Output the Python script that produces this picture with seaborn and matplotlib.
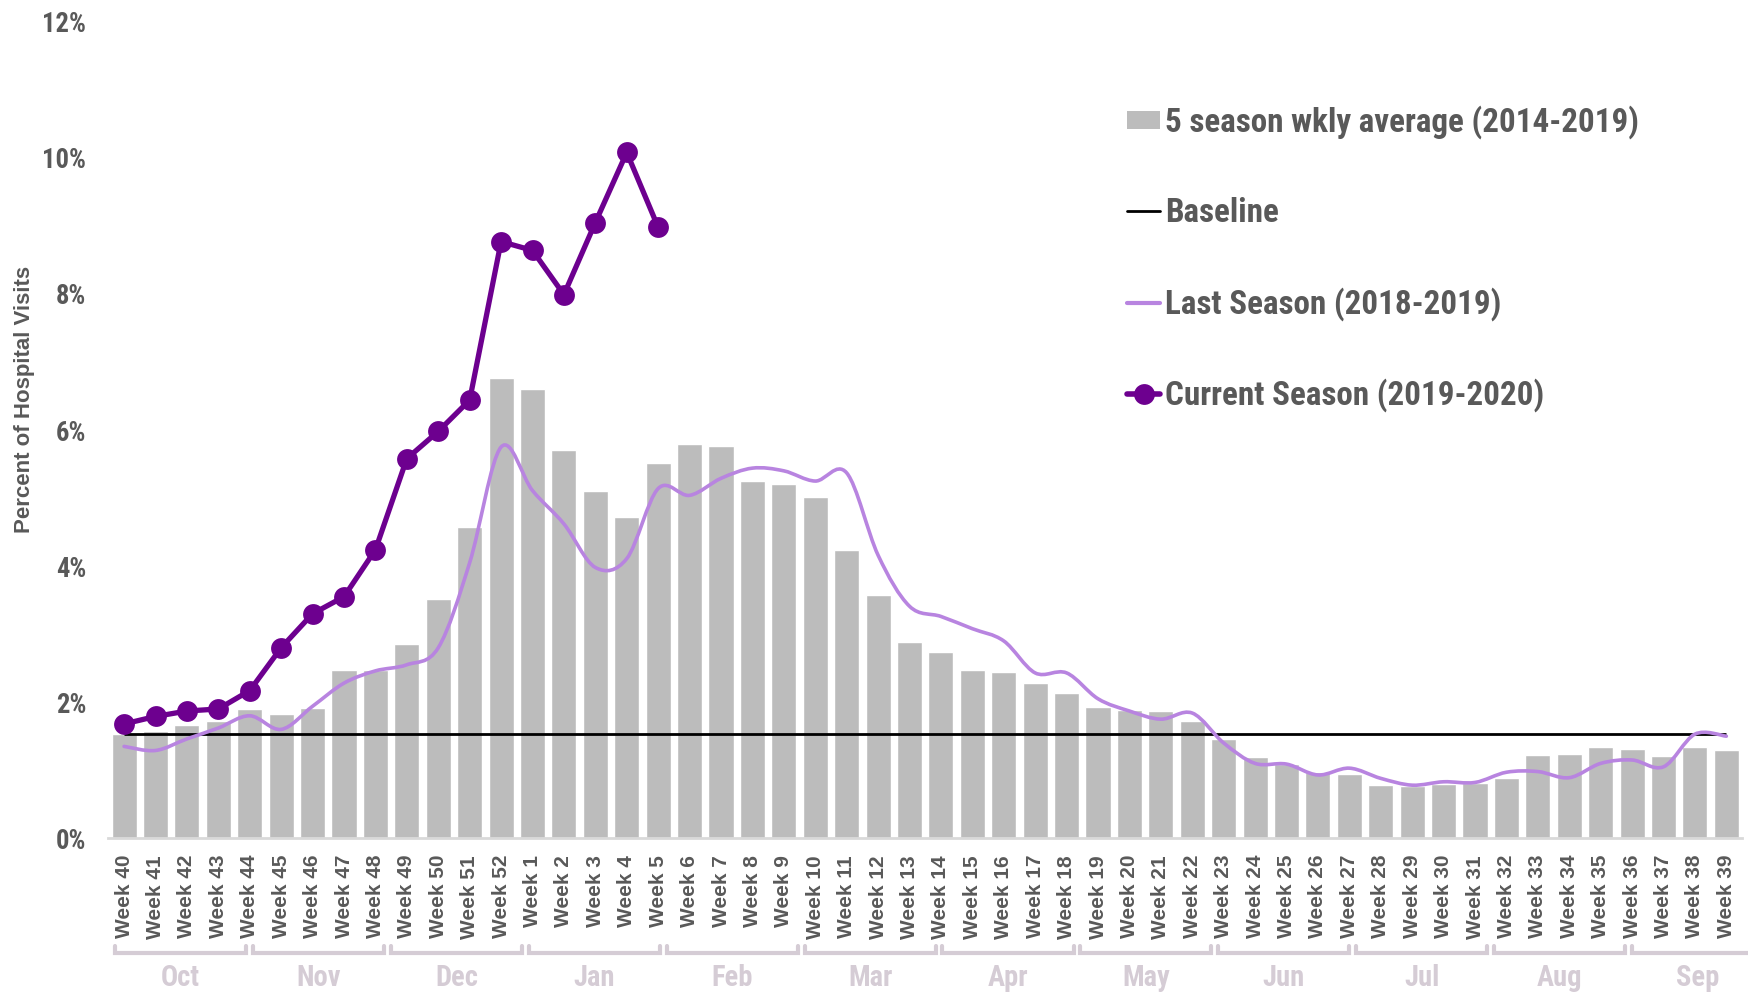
import numpy as np
import pandas as pd
import matplotlib
matplotlib.use("Agg")
import matplotlib.pyplot as plt
import seaborn as sns
from matplotlib.path import Path
from matplotlib.patches import PathPatch, Patch
from matplotlib.lines import Line2D
import matplotlib.transforms as mtransforms
from matplotlib import font_manager

# ---------------- data ----------------
weeks = [f"Week {w}" for w in list(range(40, 53)) + list(range(1, 40))]
five_season_avg = [1.53, 1.57, 1.66, 1.72, 1.90, 1.83, 1.91, 2.47, 2.47, 2.86, 3.51, 4.58, 6.77,
                   6.61, 5.70, 5.11, 4.72, 5.51, 5.79, 5.77, 5.25, 5.21, 5.02,
                   4.23, 3.57, 2.89, 2.74, 2.48, 2.44, 2.28, 2.13, 1.93, 1.89,
                   1.87, 1.73, 1.46, 1.20, 1.09, 0.98, 0.95, 0.78, 0.77, 0.80,
                   0.81, 0.89, 1.22, 1.24, 1.34, 1.31, 1.21, 1.34, 1.30]
last_season = [1.35, 1.29, 1.46, 1.62, 1.80, 1.60, 1.94, 2.28, 2.46, 2.55, 2.80, 4.05, 5.75,
               5.11, 4.62, 3.98, 4.11, 5.14, 5.04, 5.29, 5.44, 5.40, 5.25,
               5.37, 4.16, 3.41, 3.26, 3.08, 2.90, 2.43, 2.43, 2.05, 1.87,
               1.75, 1.84, 1.40, 1.10, 1.09, 0.93, 1.03, 0.88, 0.78, 0.83,
               0.82, 0.97, 0.98, 0.89, 1.10, 1.15, 1.05, 1.53, 1.50]
current_season = [1.68, 1.79, 1.87, 1.90, 2.17, 2.80, 3.30, 3.55, 4.24, 5.58, 5.98, 6.44,
                  8.77, 8.64, 7.99, 9.05, 10.08, 8.98]
baseline = 1.53
months = ["Oct", "Nov", "Dec", "Jan", "Feb", "Mar", "Apr", "May", "Jun", "Jul", "Aug", "Sep"]
y_ticks = [0, 2, 4, 6, 8, 10, 12]
legend_labels = ["5 season wkly average (2014-2019)", "Baseline",
                 "Last Season (2018-2019)", "Current Season (2019-2020)"]

# ---------------- fonts ----------------
sns.set_theme(style="white")
all_fonts = font_manager.fontManager.ttflist
names = {f.name for f in all_fonts}
narrow_name, narrow_stretch = None, "normal"
for pref in ["Liberation Sans Narrow", "Roboto Condensed", "Open Sans Condensed",
             "Noto Sans Condensed", "DejaVu Sans Condensed", "Arial Narrow"]:
    if pref in names:
        narrow_name = pref
        break
if narrow_name is None:
    for f in all_fonts:
        if "Narrow" in f.name or "Condensed" in f.name:
            narrow_name = f.name
            break
if narrow_name is None:
    for f in all_fonts:
        st = str(f.stretch)
        if st in ("condensed", "semi-condensed", "extra-condensed") or (st.isdigit() and int(st) < 500):
            narrow_name, narrow_stretch = f.name, "condensed"
            break
NARROW = ([narrow_name] if narrow_name else []) + ["Liberation Sans", "DejaVu Sans"]
WIDE = ["Liberation Sans", "DejaVu Sans"]
plt.rcParams["font.family"] = NARROW

TEXT = "#595959"
BAR = "#bcbcbc"
LAST = "#b884e0"
CUR = "#6d008f"
MONTH = "#d5ccd5"

fig = plt.figure(figsize=(17.48, 9.92), dpi=100)
renderer = fig.canvas.get_renderer()


def fit_size(text, target_px, base=20.0):
    t = fig.text(0, 0, text, fontsize=base, fontweight="bold", family=NARROW,
                 fontstretch=narrow_stretch)
    w = t.get_window_extent(renderer).width
    t.remove()
    return base * target_px / w


tick_fs = fit_size("12%", 44)
month_fs = fit_size("Oct", 39)
leg_fs = fit_size(legend_labels[0], 475)

ax = fig.add_axes([0.062, 0.155, 0.9346, 0.823])

df = pd.DataFrame({"week": weeks, "avg": five_season_avg})
sns.barplot(data=df, x="week", y="avg", color=BAR, saturation=1, width=0.8, ax=ax, zorder=1)

# baseline
ax.hlines(baseline, 0, len(weeks) - 1, color="black", lw=2, zorder=3)

# last season: smoothed (Excel-like bezier) through the data points
xs = np.arange(len(last_season), dtype=float)
pts = np.column_stack([xs, np.array(last_season)])
verts = [pts[0]]
codes = [Path.MOVETO]
n = len(pts)
for i in range(n - 1):
    p_prev = pts[i - 1] if i > 0 else pts[i]
    p_next2 = pts[i + 2] if i + 2 < n else pts[i + 1]
    c1 = pts[i] + (pts[i + 1] - p_prev) / 6.0
    c2 = pts[i + 1] - (p_next2 - pts[i]) / 6.0
    verts += [c1, c2, pts[i + 1]]
    codes += [Path.CURVE4] * 3
ax.add_patch(PathPatch(Path(verts, codes), facecolor="none", edgecolor=LAST, lw=2.6,
                       zorder=4, capstyle="round"))

# current season
cur_df = pd.DataFrame({"x": np.arange(len(current_season)), "y": current_season})
sns.lineplot(data=cur_df, x="x", y="y", color=CUR, lw=3.8, marker="o", markersize=15,
             markeredgewidth=0, ax=ax, zorder=5)

# axes styling
ax.set_xlim(-0.5, len(weeks) - 0.5)
ax.set_ylim(0, 12)
ax.set_yticks(y_ticks)
ax.set_yticklabels([f"{t}%" for t in y_ticks], fontsize=tick_fs, fontweight="bold", color=TEXT,
                   fontstretch=narrow_stretch)
ax.tick_params(axis="y", length=0, pad=16)
ax.tick_params(axis="x", length=0, pad=12)
ax.set_xticks(range(len(weeks)))
ax.set_xticklabels(weeks, rotation=90, fontsize=15, fontweight="bold", color=TEXT,
                   family=WIDE, va="top", ha="center")
for s in ["top", "right", "left"]:
    ax.spines[s].set_visible(False)
ax.spines["bottom"].set_color("#d9d9d9")
ax.spines["bottom"].set_linewidth(2)
ax.set_xlabel("")
ax.set_ylabel("")
fig.text(25 / 1748, 1 - 399 / 992, "Percent of Hospital Visits", rotation=90, ha="center",
         va="center", fontsize=16, fontweight="bold", color=TEXT, family=WIDE)

# month brackets (12 equal groups under the week axis)
trans = mtransforms.blended_transform_factory(ax.transData, ax.transAxes)
ax_h = 0.823 * 992
start, seg, gap = -0.29, 4.39, 0.22
yb = -(953 - 838) / ax_h
yt = -(946 - 838) / ax_h
ytxt = -(978 - 838) / ax_h
for i, m in enumerate(months):
    a = start + i * seg
    b = a + seg - gap
    ax.plot([a, a, b, b], [yt, yb, yb, yt], color=MONTH, lw=3, transform=trans,
            clip_on=False, solid_joinstyle="miter")
    ax.text((a + b) / 2, ytxt, m, transform=trans, ha="center", va="center",
            fontsize=month_fs, fontweight="bold", color=MONTH, fontstretch=narrow_stretch)

# legend
s_px = leg_fs * 100 / 72
handles = [Patch(facecolor=BAR, edgecolor="none"),
           Line2D([], [], color="black", lw=2),
           Line2D([], [], color=LAST, lw=3),
           Line2D([], [], color=CUR, lw=4, marker="o", markersize=15, markeredgewidth=0)]
leg = fig.legend(handles, legend_labels, loc="upper left",
                 bbox_to_anchor=(1127 / 1748, 1 - (126 - 0.62 * s_px) / 992), frameon=False,
                 prop={"family": NARROW, "weight": "bold", "size": leg_fs,
                       "stretch": narrow_stretch},
                 handlelength=33 / s_px, handletextpad=5 / s_px,
                 labelspacing=(96.6 - 1.17 * s_px) / s_px,
                 handleheight=16 / s_px, borderpad=0, borderaxespad=0)
for t in leg.get_texts():
    t.set_color(TEXT)

fig.savefig("out.png", dpi=100)
